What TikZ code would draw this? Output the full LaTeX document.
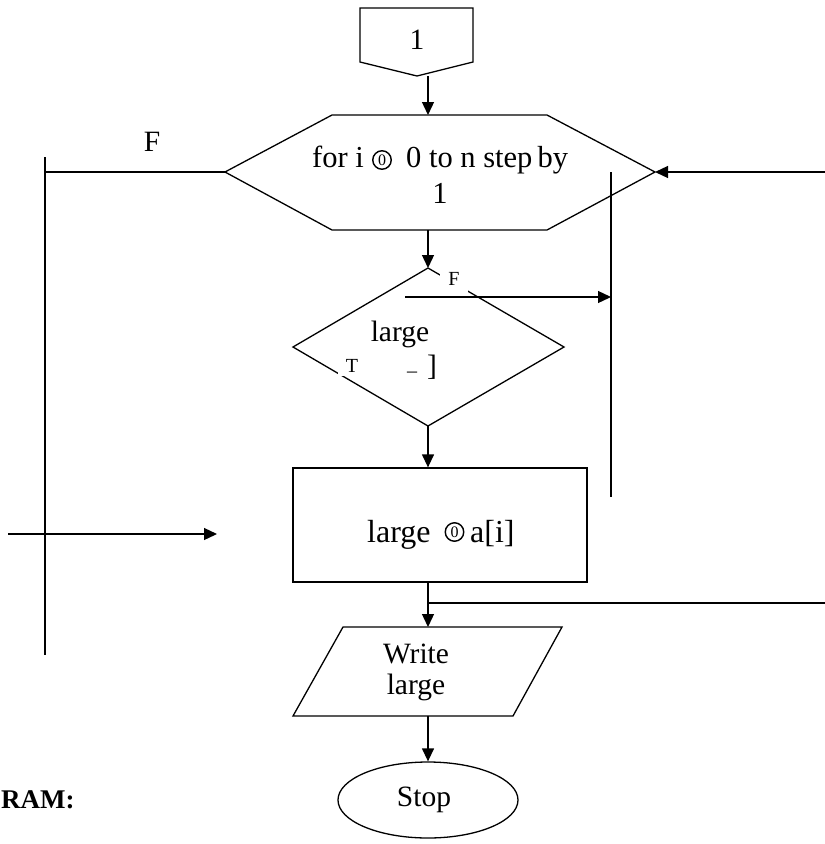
\documentclass[tikz,border=0pt]{standalone}
\usepackage{fontspec}
\setmainfont{Liberation Serif}
\usetikzlibrary{arrows.meta,shapes.geometric}
\tikzset{
  ln/.style={line width=1.3pt},
  arr/.style={ln,-{Triangle[length=13pt,width=12pt]}},
  txt/.style={font=\fontsize{29.5}{33}\selectfont, inner sep=0pt, align=center},
  hextxt/.style={font=\fontsize{30.5}{34}\selectfont, inner sep=0pt},
  bigtxt/.style={font=\fontsize{32}{36}\selectfont, inner sep=0pt},
  small/.style={font=\fontsize{20}{24}\selectfont, inner sep=0pt},
  circz/.style={circle, draw, line width=1.4pt, minimum size=18.5pt, inner sep=0pt, font=\fontsize{16}{16}\selectfont},
}
\begin{document}
\begin{tikzpicture}[x=1pt,y=-1pt]
\useasboundingbox (0,0) rectangle (825,844);
% connector 1
\draw[ln] (360,8) -- (473,8) -- (473,62) -- (417,76) -- (360,62) -- cycle;
\node[txt] (c1) at (417,40) {1};
\coordinate (c1b) at (428,76);
% hexagon
\draw[ln] (225,172) coordinate (hexL) -- (332,115) -- (547,115) -- (655,172) coordinate (hexR) -- (547,230) -- (332,230) -- cycle;
\coordinate (hexT) at (428,115);
\coordinate (hexB) at (428,230);
\node[hextxt, anchor=base west] (forA) at (312,167) {for i};
\node[circz] (forC) at (382,160) {0};
\node[hextxt, anchor=base west] (forB) at (406,167) {0 to n step\,by};
\node[hextxt, anchor=base] (forD) at (440,203) {1};
% diamond
\draw[ln] (428,268) coordinate (diaT) -- (564,347) -- (428,426) coordinate (diaB) -- (293,347) -- cycle;
\node[small, fill=white, minimum width=28pt, minimum height=26pt] (fF) at (454,279) {F};
\node[small, fill=white, minimum width=28pt, minimum height=20pt] (tT) at (352,366) {T};
\node[txt] (lg) at (400,334) {large};
\node[small] (us) at (412,372) {\_};
\node[txt] (br) at (432,367) {]};
% box
\node[draw, ln, minimum width=294pt, minimum height=114pt, inner sep=0pt] (box) at (440,525) {};
\node[bigtxt, anchor=base west] (boxA) at (367,542) {large};
\node[circz] (boxC) at (454.5,532) {0};
\node[bigtxt, anchor=base west] (boxB) at (470,542) {a[i]};
% parallelogram
\draw[ln] (343,627) -- (562,627) -- (513,716) -- (293,716) -- cycle;
\coordinate (parT) at (428,627);
\coordinate (parB) at (428,716);
\node[txt] (wr) at (416,672) {Write\\[-2pt]large};
% stop
\node[draw, ln, ellipse, minimum width=180pt, minimum height=76pt, inner sep=0pt] (stop) at (428,800) {};
\node[txt] (stopt) at (424,800) {Stop};
% main flow
\draw[arr] (c1b) -- (hexT);
\draw[arr] (hexB) -- (diaT);
\draw[arr] (diaB) -- (box.north -| diaB);
\draw[arr] (box.south -| diaB) -- (parT);
\draw[arr] (parB) -- (stop.north);
% right loop
\coordinate (rIn) at (825,172);
\draw[arr] (rIn) -- (hexR);
\coordinate (jn) at (428,603);
\coordinate (rOut) at (825,603);
\draw[ln] (jn) -- (rOut);
\coordinate (vT) at (611,172);
\coordinate (vB) at (611,497);
\draw[ln] (vT) -- (vB);
\coordinate (fS) at (405,297);
\draw[arr] (fS) -- (fS -| vT);
% left loop
\coordinate (lT) at (45,157);
\coordinate (lB) at (45,655);
\draw[ln] (hexL) -- (hexL -| lT);
\draw[ln] (lT) -- (lB);
\node[txt] (fL) at (152,142) {F};
\coordinate (aS) at (8,534);
\coordinate (aE) at (217,534);
\draw[arr] (aS) -- (aE);
% caption
\node[font=\fontsize{27}{30}\selectfont\bfseries, inner sep=0pt, anchor=west] (cap) at (1,800) {RAM:};
\end{tikzpicture}
\end{document}
